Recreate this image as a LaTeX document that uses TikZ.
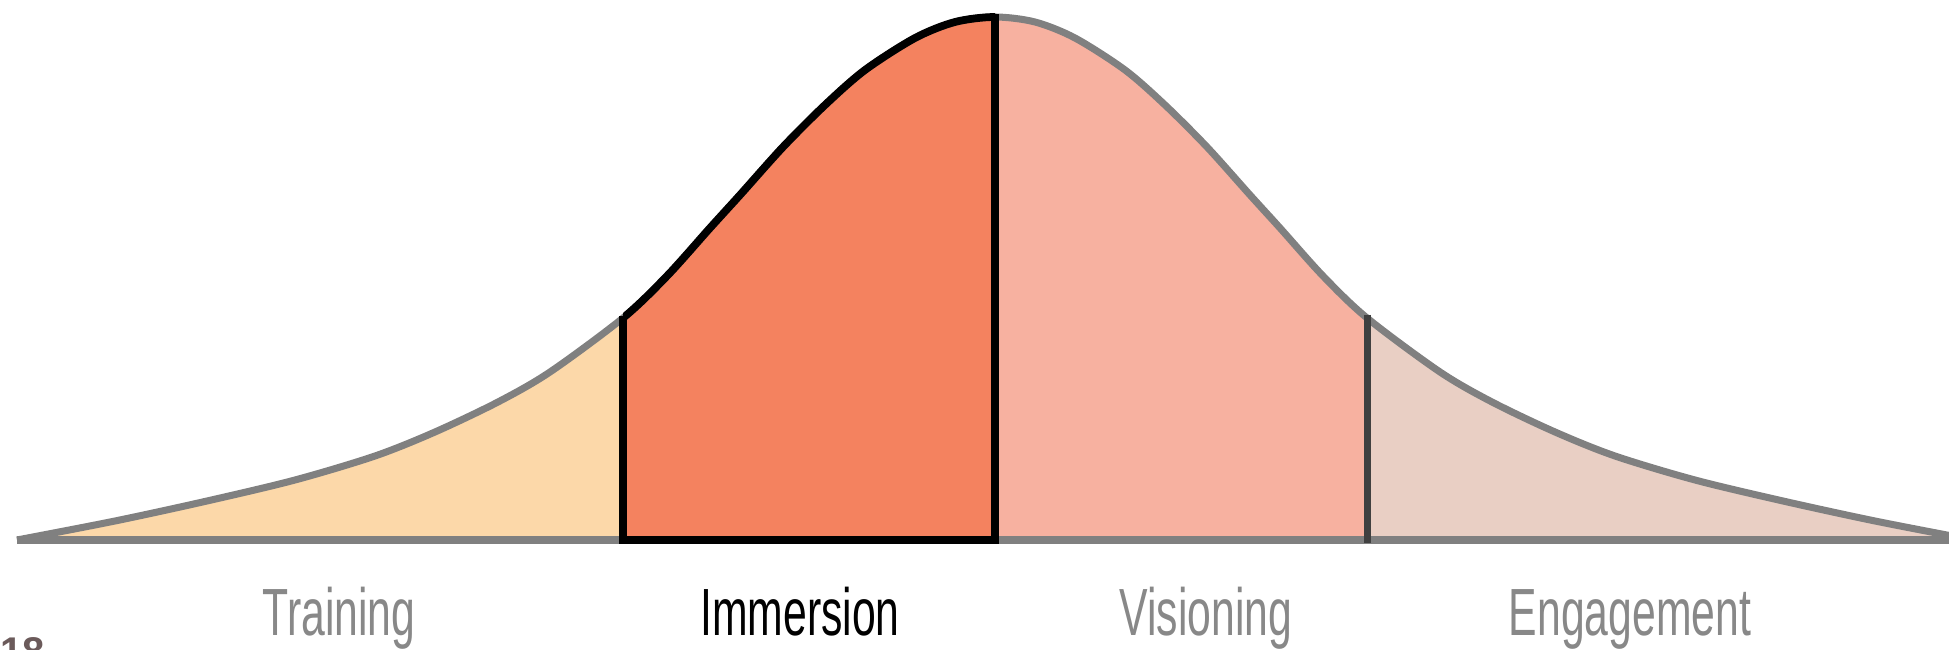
\documentclass[tikz,border=0pt]{standalone}
\usepackage{fontspec}
\usepackage{tikz}
\usetikzlibrary{positioning}
\newfontfamily\labelfont[FakeStretch=0.64]{Liberation Sans}
\newfontfamily\pagefont{Liberation Sans}
\definecolor{trainfill}{HTML}{FCD8A9}
\definecolor{immfill}{HTML}{F4825F}
\definecolor{visfill}{HTML}{F7B1A0}
\definecolor{engfill}{HTML}{E9CFC4}
\definecolor{curvegray}{HTML}{808080}
\definecolor{divider}{HTML}{404040}
\definecolor{labelgray}{HTML}{888888}
\definecolor{pagegray}{HTML}{6B5A5A}
\newcommand{\bellcurve}{plot[smooth] coordinates {(0.17,0) (1.15,0.19) (2.07,0.39) (2.95,0.60) (3.75,0.84) (4.35,1.08) (4.98,1.38) (5.50,1.68) (6.23,2.22) (6.67,2.64) (7.10,3.12) (7.40,3.45) (7.83,3.93) (8.25,4.35) (8.65,4.70) (9.15,5.02) (9.55,5.18) (9.95,5.23) (10.35,5.18) (10.75,5.02) (11.25,4.70) (11.65,4.35) (12.07,3.93) (12.50,3.45) (12.80,3.12) (13.23,2.64) (13.67,2.22) (14.40,1.68) (14.92,1.38) (15.55,1.08) (16.15,0.84) (16.95,0.60) (17.83,0.39) (18.75,0.19) (19.73,0)}}

\begin{document}
\begin{tikzpicture}[
  phase/.style={font=\labelfont\fontsize{19}{23}\selectfont, anchor=base, inner sep=0pt, text=labelgray},
  edge/.style={line width=2pt, curvegray}
]
  \useasboundingbox (0,-1.10) rectangle (19.49,5.40);
  \begin{scope}
    \clip (0,-0.2) rectangle (6.23,6);
    \fill[trainfill] \bellcurve -- cycle;
  \end{scope}
  \begin{scope}
    \clip (6.23,-0.2) rectangle (9.95,6);
    \fill[immfill] \bellcurve -- cycle;
  \end{scope}
  \begin{scope}
    \clip (9.95,-0.2) rectangle (13.67,6);
    \fill[visfill] \bellcurve -- cycle;
  \end{scope}
  \begin{scope}
    \clip (13.67,-0.2) rectangle (20,6);
    \fill[engfill] \bellcurve -- cycle;
  \end{scope}
  \draw[edge] \bellcurve;
  \draw[edge] (0.17,0) -- (19.60,0);
  \begin{scope}
    \clip (6.23,-0.5) rectangle (9.95,6);
    \draw[black, line width=2.2pt] \bellcurve;
  \end{scope}
  \draw[black, line width=2.2pt] (6.23,2.24) -- (6.23,0) -- (9.95,0) -- (9.95,5.26);
  \draw[divider, line width=2pt] (13.67,2.25) -- (13.67,-0.035);
  \node[phase] (training) at (3.39,-0.96) {Training};
  \node[phase, text=black] (immersion) at (8.00,-0.96) {Immersion};
  \node[phase] (visioning) at (12.06,-0.96) {Visioning};
  \node[phase] (engagement) at (16.30,-0.96) {Engagement};
  \node[anchor=north west, inner sep=0pt, text=pagegray, font=\pagefont\bfseries\fontsize{11.4}{13}\selectfont] (pagenum) at (0,-0.97) {18};
\end{tikzpicture}
\end{document}
